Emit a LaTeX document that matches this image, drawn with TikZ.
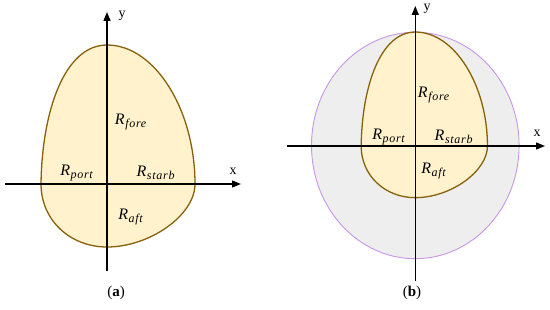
\documentclass[tikz,border=0pt]{standalone}
\usepackage{fontspec}
\setmainfont{Liberation Serif}
\usetikzlibrary{arrows.meta}
\definecolor{eggfill}{HTML}{FFF2CC}
\definecolor{eggline}{RGB}{135,98,10}
\definecolor{ringfill}{HTML}{EEEEEE}
\definecolor{ringline}{RGB}{200,150,230}
\tikzset{
  eggshape/.style={fill=eggfill,draw=eggline,line width=1.3pt},
  axisline/.style={line width=1.3pt,-{Triangle[length=9pt,width=7pt]}},
  rlabel/.style={font=\fontsize{16}{18}\selectfont,inner sep=0pt},
  axlabel/.style={font=\fontsize{14}{16}\selectfont,inner sep=0pt},
  caplabel/.style={font=\fontsize{15}{17}\selectfont,inner sep=0pt}
}
\newcommand{\Rsub}[1]{\textit{R}\kern0.5pt\raisebox{-3.2pt}{\fontsize{12}{13}\selectfont\addfontfeature{LetterSpace=6}\textit{#1}}}
\newcommand{\eggpath}{(88,0) .. controls (88,-74) and (48,-139) .. (0,-139)
  .. controls (-42,-139) and (-65,-74) .. (-66,0)
  .. controls (-66,36) and (-37,63) .. (0,63)
  .. controls (43,63) and (88,31) .. (88,0) -- cycle}
\begin{document}
\begin{tikzpicture}[x=1pt,y=-1pt]
\useasboundingbox (0,0) rectangle (550,310);
% ---------- panel (a) ----------
\begin{scope}[shift={(107,184)}]
  \path[eggshape] \eggpath;
\end{scope}
\coordinate (axl) at (5,184);
\coordinate (axr) at (241,184);
\coordinate (ayb) at (107,271);
\coordinate (ayt) at (107,12);
\draw[axisline] (axl) -- (axr);
\draw[axisline] (ayb) -- (ayt);
\node[axlabel] (ax) at (233,171) {x};
\node[axlabel] (ay) at (122,16) {y};
\node[rlabel] (afore) at (131,122) {\Rsub{fore}};
\node[rlabel] (aport) at (77,173) {\Rsub{port}};
\node[rlabel] (astarb) at (156,173) {\Rsub{starb}};
\node[rlabel] (aaft) at (131,217) {\Rsub{aft}};
\node[caplabel] (capa) at (116,293) {(\textbf{a})};
% ---------- panel (b) ----------
\path[fill=ringfill,draw=ringline,line width=0.9pt] (415.3,145.5) ellipse [x radius=103.8, y radius=113.2];
\begin{scope}[shift={(415.3,146)},scale=0.82]
  \path[eggshape] \eggpath;
\end{scope}
\coordinate (bxl) at (287,146);
\coordinate (bxr) at (545,146);
\coordinate (byb) at (415.3,281);
\coordinate (byt) at (415.3,6);
\draw[axisline] (bxl) -- (bxr);
\draw[axisline] (byb) -- (byt);
\node[axlabel] (bx) at (537,133) {x};
\node[axlabel] (by) at (427,9) {y};
\node[rlabel] (bfore) at (434,95) {\Rsub{fore}};
\node[rlabel] (bport) at (389,137) {\Rsub{port}};
\node[rlabel] (bstarb) at (454,137) {\Rsub{starb}};
\node[rlabel] (baft) at (434,171) {\Rsub{aft}};
\node[caplabel] (capb) at (412,293) {(\textbf{b})};
\end{tikzpicture}
\end{document}
